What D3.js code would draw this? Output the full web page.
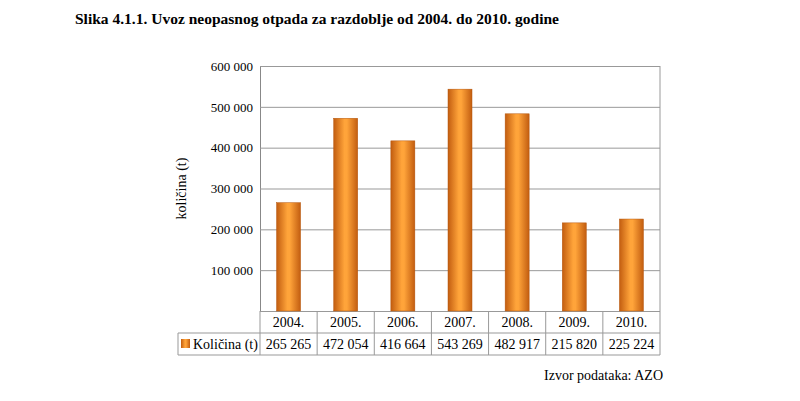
<!DOCTYPE html><html><head><meta charset="utf-8"><script src="https://cdn.jsdelivr.net/npm/d3@7"></script>
<style>body{margin:0;background:#fff}</style></head><body><svg id="c" width="800" height="401"></svg>
<script>
const years=["2004.","2005.","2006.","2007.","2008.","2009.","2010."];
const values=[265265,472054,416664,543269,482917,215820,225224];
const ticks=[0,100000,200000,300000,400000,500000,600000];
const fmt=v=>d3.format(",")(v).replace(/,/g," ");
const svg=d3.select("#c"),F="Liberation Serif, DejaVu Serif, serif";
const L=260,R=660,T=66,B=311;
const x=d3.scaleBand().domain(years).range([L,R]);
const y=d3.scaleLinear().domain([0,600000]).range([B,T]);
svg.append("text").attr("x",75).attr("y",24).attr("font-family",F).attr("font-weight","bold").attr("font-size",15.5).text("Slika 4.1.1. Uvoz neopasnog otpada za razdoblje od 2004. do 2010. godine");
const g=svg.append("defs").append("linearGradient").attr("id","gr");
[["0%","#c25d10"],["45%","#ffa43a"],["55%","#ffa43a"],["100%","#c25d10"]].forEach(s=>g.append("stop").attr("offset",s[0]).attr("stop-color",s[1]));
const ax=svg.append("g").attr("transform",`translate(${L},0)`).call(d3.axisLeft(y).tickValues(ticks).tickSize(-(R-L)).tickFormat(d=>d?fmt(d):""));
ax.select(".domain").attr("stroke","#888");
ax.selectAll(".tick line").attr("stroke","#999");
ax.selectAll("text").attr("font-family",F).attr("font-size",13).attr("fill","#000").attr("dx",-4);
svg.append("line").attr("x1",R).attr("x2",R).attr("y1",T).attr("y2",B).attr("stroke","#999");
svg.selectAll(".bar").data(values).join("rect").attr("x",(d,i)=>x(years[i])+x.bandwidth()/2-12).attr("width",24)
 .attr("y",d=>y(d)).attr("height",d=>B-y(d)).attr("fill","url(#gr)").attr("stroke","#b5560c").attr("stroke-width",0.5);
svg.append("text").attr("transform",`translate(186,${(T+B)/2}) rotate(-90)`).attr("text-anchor","middle").attr("font-family",F).attr("font-size",14).text("količina (t)");
const tb=svg.append("g").attr("stroke","#999").attr("fill","none");
tb.append("line").attr("x1",L).attr("x2",R).attr("y1",333).attr("y2",333);
tb.append("line").attr("x1",178).attr("x2",R).attr("y1",355).attr("y2",355);
tb.append("line").attr("x1",178).attr("x2",L).attr("y1",333).attr("y2",333);
tb.append("line").attr("x1",178).attr("x2",178).attr("y1",333).attr("y2",355);
years.forEach((yv,i)=>tb.append("line").attr("x1",x(yv)).attr("x2",x(yv)).attr("y1",B).attr("y2",355));
tb.append("line").attr("x1",R).attr("x2",R).attr("y1",B).attr("y2",355);
years.forEach((yv,i)=>{
 svg.append("text").attr("x",x(yv)+x.bandwidth()/2).attr("y",327).attr("text-anchor","middle").attr("font-family",F).attr("font-size",14).text(yv);
 svg.append("text").attr("x",x(yv)+x.bandwidth()/2).attr("y",349).attr("text-anchor","middle").attr("font-family",F).attr("font-size",14).text(fmt(values[i]));
});
svg.append("rect").attr("x",181).attr("y",339).attr("width",9).attr("height",9).attr("fill","url(#gr)");
svg.append("text").attr("x",193).attr("y",349).attr("font-family",F).attr("font-size",14).text("Količina (t)");
svg.append("text").attr("x",663).attr("y",380).attr("text-anchor","end").attr("font-family",F).attr("font-size",14).text("Izvor podataka: AZO");
</script></body></html>
